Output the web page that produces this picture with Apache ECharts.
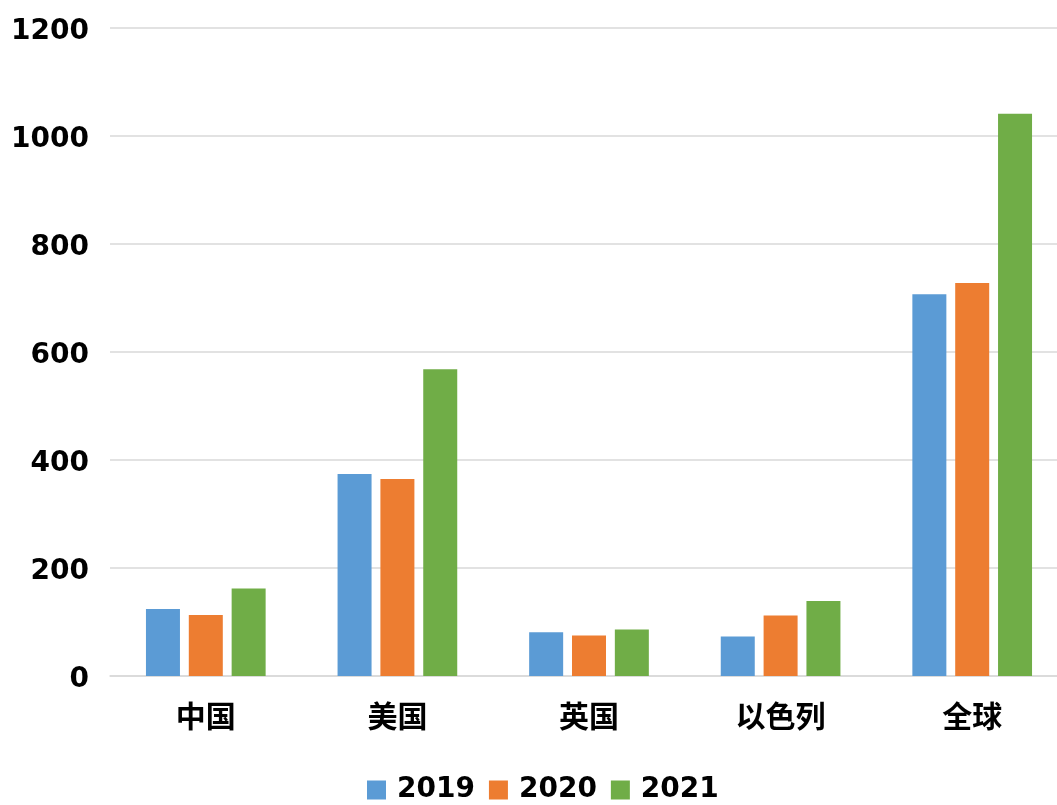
<!DOCTYPE html>
<html>
<head>
<meta charset="utf-8">
<script src="https://cdn.jsdelivr.net/npm/echarts@6/dist/echarts.min.js"></script>
<style>html,body{margin:0;padding:0;background:#fff;overflow:hidden;width:1057px;height:805px;}#c{width:1072px;height:805px;}</style>
</head>
<body>
<div id="c"></div>
<script>
const categories = ['中国', '美国', '英国', '以色列', '全球'];
const years = ['2019', '2020', '2021'];
const s2019 = [124, 374, 81, 73, 707];
const s2020 = [113, 365, 75, 112, 728];
const s2021 = [162, 568, 86, 139, 1041];
const yTicks = [0, 200, 400, 600, 800, 1000, 1200];
const colors = ['#5B9BD5', '#ED7D31', '#70AD47'];

const numFont = '"DejaVu Sans", sans-serif';
const cjkFont = '"Noto Sans CJK SC", sans-serif';
const chart = echarts.init(document.getElementById('c'));
const seriesData = [s2019, s2020, s2021];
chart.setOption({
  animation: false,
  grid: { left: 110, top: 28, right: 4, bottom: 129, containLabel: false },
  legend: {
    top: 771, left: 362,
    itemWidth: 19, itemHeight: 19, itemGap: 14,
    icon: 'rect',
    textStyle: { fontFamily: numFont, fontWeight: 'bold', fontSize: 28, color: '#000', padding: [0, 0, 0, 6] },
    data: years
  },
  xAxis: {
    type: 'category',
    data: categories,
    axisLine: { lineStyle: { color: '#d9d9d9', width: 1.5 } },
    axisTick: { show: false },
    axisLabel: { fontFamily: cjkFont, fontWeight: 'bold', fontSize: 30, color: '#000', margin: 25 }
  },
  yAxis: {
    type: 'value',
    min: yTicks[0], max: yTicks[yTicks.length - 1], interval: 200,
    axisLine: { show: false },
    axisTick: { show: false },
    splitLine: { lineStyle: { color: '#d9d9d9', width: 1.5 } },
    axisLabel: { fontFamily: numFont, fontWeight: 'bold', fontSize: 28, color: '#000', margin: 21,
      formatter: v => '{n|' + v + '}',
      rich: { n: { fontFamily: numFont, fontWeight: 'bold', fontSize: 28, color: '#000', padding: [7, 0, 0, 0] } } }
  },
  series: years.map((y, i) => ({
    name: y,
    type: 'bar',
    data: seriesData[i],
    barWidth: 34,
    barGap: '26%',
    itemStyle: { color: colors[i] }
  })),
  color: colors
});
</script>
</body>
</html>
